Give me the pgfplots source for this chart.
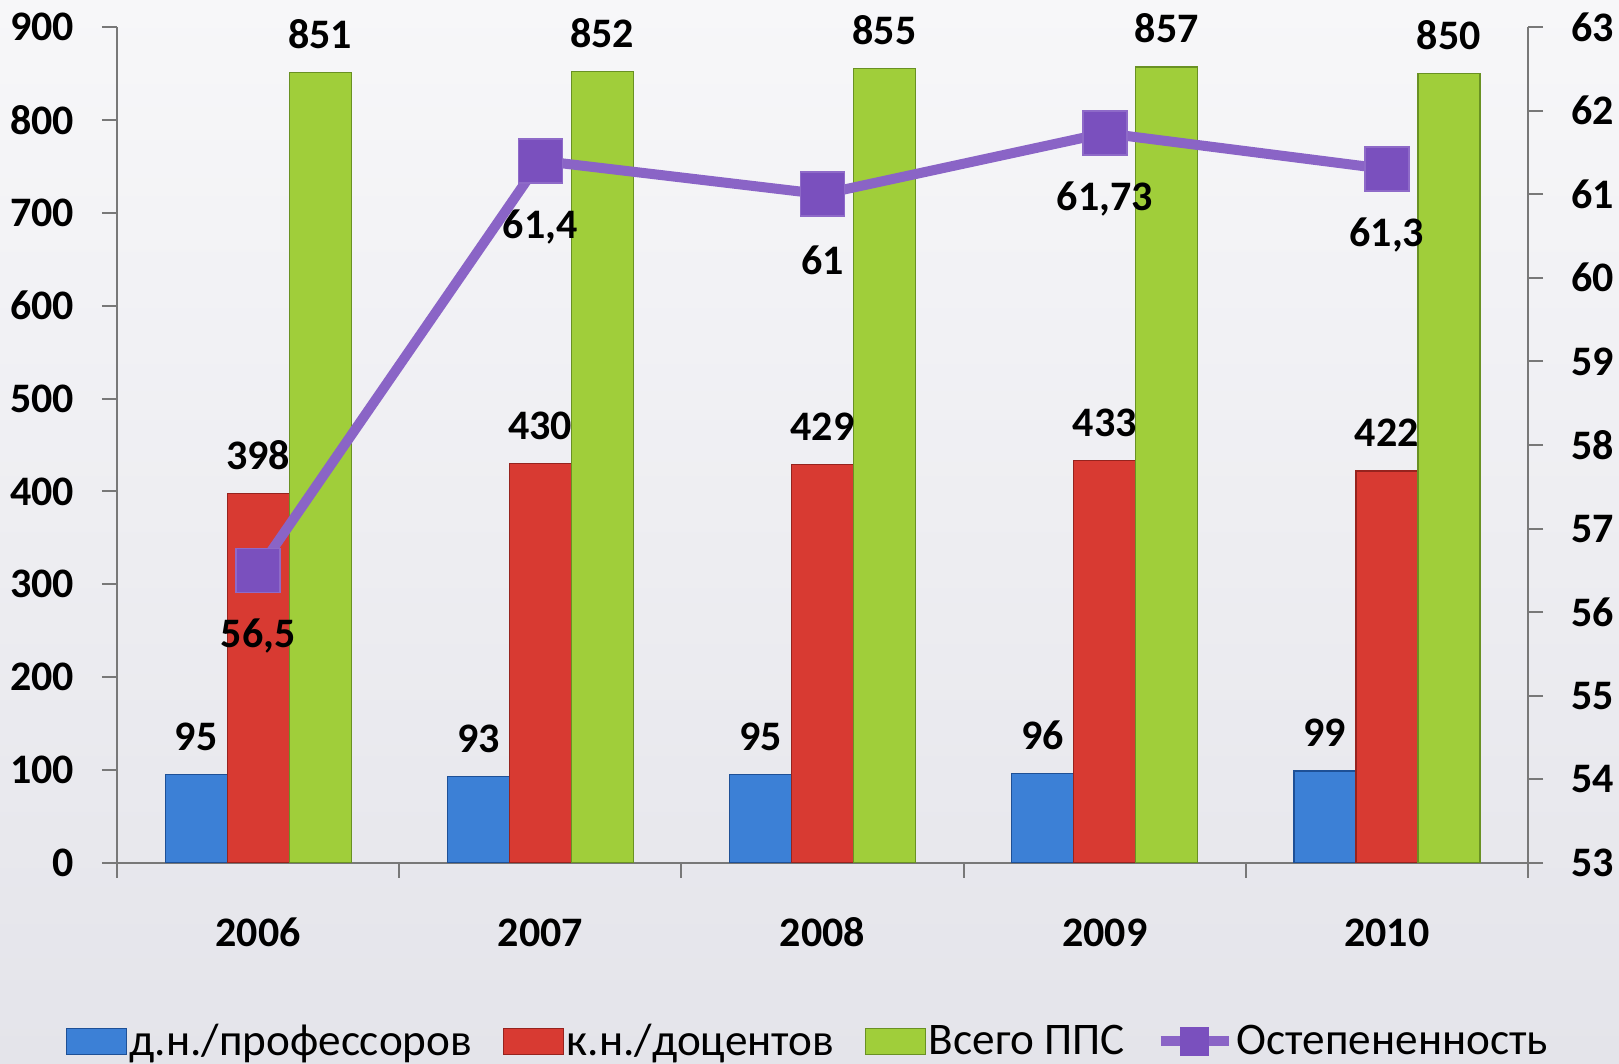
\documentclass[border=0pt]{standalone}
\usepackage{pgfplots}
\pgfplotsset{compat=1.18}
\usepackage{fontspec}
\setmainfont{Carlito}
\definecolor{cblue}{RGB}{60,128,214}
\definecolor{cblued}{RGB}{30,80,150}
\definecolor{cred}{RGB}{216,58,50}
\definecolor{credd}{RGB}{150,35,30}
\definecolor{cgreen}{RGB}{160,206,58}
\definecolor{cgreend}{RGB}{105,145,35}
\definecolor{cpurple}{RGB}{138,100,198}
\definecolor{cpurplem}{RGB}{122,80,190}
\definecolor{axgray}{RGB}{120,120,120}
\definecolor{bgtop}{RGB}{247,247,249}
\definecolor{bgbot}{RGB}{228,228,234}
\pgfplotsset{
  mybar/.style={legend image code/.code={\draw[##1] (0pt,-6.5pt) rectangle (30pt,6.5pt);}},
  myline/.style={legend image code/.code={\draw[mark repeat=2,mark phase=2,##1] plot coordinates {(0pt,0pt) (17pt,0pt) (34pt,0pt)};}},
}
\newcommand{\tf}{\bfseries\fontsize{21}{21}\selectfont}
\begin{document}
\begin{tikzpicture}
\fill[top color=bgtop, bottom color=bgbot] (0,0) rectangle (809.5pt,532pt);
\path[use as bounding box] (0,0) rectangle (809.5pt,532pt);
\begin{axis}[
  at={(58.5pt,100.5pt)}, anchor=south west,
  scale only axis, width=705.5pt, height=418pt,
  xmin=-0.5, xmax=4.5, ymin=0, ymax=900,
  ytick={0,100,...,900},
  axis x line*=bottom, axis y line*=left,
  axis line style={axgray, line width=1pt},
  xtick={-0.5,0.5,...,4.5}, xticklabels={},
  extra x ticks={0,1,2,3,4},
  extra x tick labels={2006,2007,2008,2009,2010},
  extra x tick style={major tick length=0pt, tick style={draw=none},
    xticklabel style={text height=14pt, text depth=0pt, yshift=-24pt}},
  tick align=outside, major tick length=7.5pt,
  tick style={axgray, line width=1pt},
  ticklabel style={font=\tf},
  yticklabel style={xshift=-10.5pt},
  /pgf/number format/assume math mode=true,
  legend style={at={(0.49,-0.213)}, anchor=center, draw=none, fill=none,
    font=\fontsize{22.6}{22.6}\selectfont, legend columns=4,
    /tikz/every even column/.append style={column sep=14pt},
    nodes={inner sep=1.5pt}},
  legend cell align=left,
  every node near coord/.append style={font=\tf, yshift=8.5pt, text height=14pt, text depth=0pt},
]
\addplot[ybar, bar width=31pt, bar shift=-31pt, fill=cblue, draw=cblued, line width=0.6pt,
  nodes near coords, every node near coord/.append style={xshift=-31pt}, forget plot]
  coordinates {(0,95) (1,93) (2,95) (3,96) (4,99)};
\addplot[ybar, bar width=31pt, bar shift=0pt, fill=cred, draw=credd, line width=0.6pt, nodes near coords, forget plot]
  coordinates {(0,398) (1,430) (2,429) (3,433) (4,422)};
\addplot[ybar, bar width=31pt, bar shift=31pt, fill=cgreen, draw=cgreend, line width=0.6pt,
  nodes near coords, every node near coord/.append style={xshift=31pt}, forget plot]
  coordinates {(0,851) (1,852) (2,855) (3,857) (4,850)};
\addlegendimage{mybar, fill=cblue, draw=cblued}
\addlegendentry{д.н./профессоров}
\addlegendimage{mybar, fill=cred, draw=credd}
\addlegendentry{к.н./доцентов}
\addlegendimage{mybar, fill=cgreen, draw=cgreend}
\addlegendentry{Всего ППС}
\addlegendimage{myline, cpurple, line width=5pt, mark=square*, mark size=7pt, mark options={fill=cpurplem, draw=cpurplem, line width=0.5pt}}
\addlegendentry{Остепененность}
\end{axis}
\begin{axis}[
  at={(58.5pt,100.5pt)}, anchor=south west,
  scale only axis, width=705.5pt, height=418pt,
  xmin=-0.5, xmax=4.5, ymin=53, ymax=63,
  ytick={53,54,...,63},
  axis y line*=right, axis x line=none,
  axis line style={axgray, line width=1pt},
  tick align=outside, major tick length=7.5pt,
  tick style={axgray, line width=1pt},
  ticklabel style={font=\tf},
  yticklabel style={xshift=10.5pt},
  /pgf/number format/assume math mode=true,
]
\addplot[cpurple, line width=5pt, mark=square*, mark size=11pt,
  mark options={fill=cpurplem, draw=cpurplem!85!white, line width=0.8pt},
  nodes near coords, point meta=explicit symbolic,
  every node near coord/.append style={font=\tf, text=black, anchor=center, yshift=-33pt}]
  coordinates {(0,56.5) [56,5] (1,61.4) [61,4] (2,61) [61] (3,61.73) [61,73] (4,61.3) [61,3]};
\end{axis}
\end{tikzpicture}
\end{document}
